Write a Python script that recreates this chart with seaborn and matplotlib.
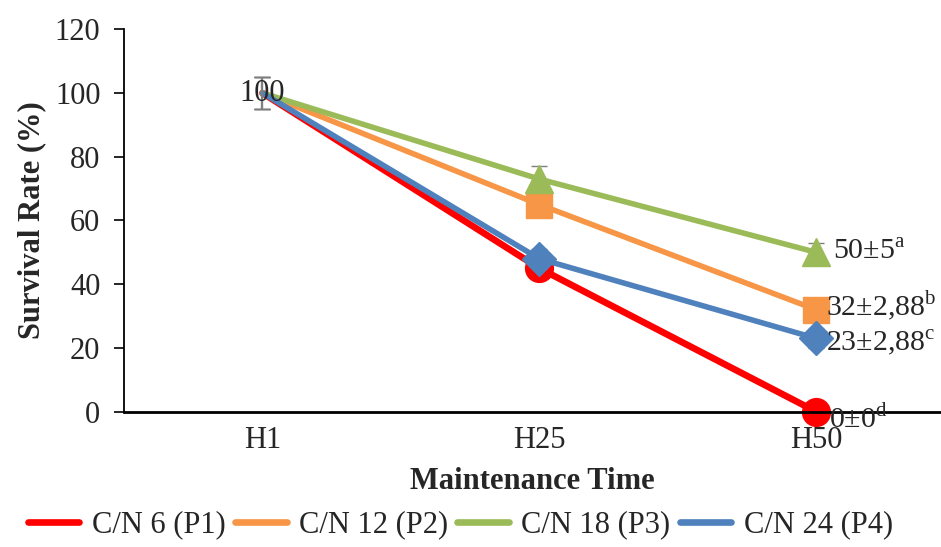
import matplotlib.pyplot as plt
import seaborn as sns
import pandas as pd
from matplotlib.lines import Line2D

# data
times = ["H1", "H25", "H50"]
series = ["C/N 6 (P1)", "C/N 12 (P2)", "C/N 18 (P3)", "C/N 24 (P4)"]
p1 = [100, 45, 0]
p2 = [100, 65, 32]
p3 = [100, 73, 50]
p4 = [100, 48, 23]
err_p1 = [5, 3, 0]
err_p2 = [5, 3, 2.88]
err_p3 = [5, 4, 3]
err_p4 = [5, 3, 2.88]
end_labels = ["0±0$^{\\mathrm{d}}$", "32±2,88$^{\\mathrm{b}}$",
              "50±5$^{\\mathrm{a}}$", "23±2,88$^{\\mathrm{c}}$"]

colors = ["#FF0000", "#F79646", "#9BBB59", "#4F81BD"]
markers = ["o", "s", "^", "D"]
msizes = [20, 19, 20, 17]
lws = [4.8, 4.0, 4.0, 4.0]
label_offsets = [(9, -5), (7, 3), (12, 0), (7, -3)]

sns.set_theme(style="white")
plt.rcParams["font.family"] = ["Liberation Serif", "DejaVu Serif"]
plt.rcParams["mathtext.fontset"] = "custom"
plt.rcParams["mathtext.rm"] = "Liberation Serif"

df = pd.DataFrame({
    "time": times * 4,
    "rate": p1 + p2 + p3 + p4,
    "err": err_p1 + err_p2 + err_p3 + err_p4,
    "group": [s for s in series for _ in times],
})

fig = plt.figure(figsize=(9.41, 5.47), dpi=100)
ax = fig.add_axes([0.1318, 0.2474, 0.868, 0.699])

for i, name in enumerate(series):
    sub = df[df["group"] == name]
    sns.lineplot(data=sub, x="time", y="rate", color=colors[i], lw=lws[i],
                 sort=False, ax=ax, zorder=2 + i)
    ax.errorbar(sub["time"], sub["rate"], yerr=sub["err"], fmt="none",
                ecolor="#7F7F7F", elinewidth=1.5, capsize=6, zorder=2 + i)
    pts = sub.iloc[1:]
    ax.plot(pts["time"], pts["rate"], ls="none", marker=markers[i],
            ms=msizes[i], color=colors[i], mec=colors[i], zorder=2.5 + i,
            clip_on=False)
    last = sub.iloc[-1]
    ax.annotate(end_labels[i], (2, last["rate"]), xytext=label_offsets[i],
                textcoords="offset points", va="center", ha="left",
                fontsize=21.5, zorder=10, annotation_clip=False)

ax.text(0, 100, "100", ha="center", va="center", fontsize=22, zorder=10)

ax.set_xlim(-0.5, 2.45)
ax.set_ylim(0, 120)
ax.set_yticks(range(0, 121, 20))
ax.tick_params(axis="y", labelsize=22, length=7, width=1.2, pad=10,
               left=True, color="black")
ax.tick_params(axis="x", labelsize=22, length=0, pad=10)
ax.set_xlabel("Maintenance Time", fontsize=22, fontweight="bold", labelpad=9)
ax.set_ylabel("Survival Rate (%)", fontsize=22, fontweight="bold", labelpad=6)

for s in ["top", "right"]:
    ax.spines[s].set_visible(False)
ax.spines["left"].set_linewidth(1.3)
ax.spines["left"].set_color("black")
ax.spines["bottom"].set_linewidth(2)
ax.spines["bottom"].set_color("black")
ax.grid(False)

handles = [Line2D([], [], color=c, lw=4.8) for c in colors]
fig.legend(handles, series, loc="center", bbox_to_anchor=(0.489, 0.04),
           ncol=4, frameon=False, fontsize=22, handlelength=1.7,
           handletextpad=0.4, columnspacing=0.3)

fig.savefig("out.png", dpi=100)
